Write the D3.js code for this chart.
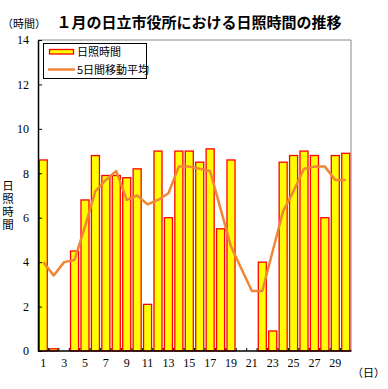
<!DOCTYPE html>
<html>
<head>
<meta charset="utf-8">
<script src="https://cdn.jsdelivr.net/npm/d3@7"></script>
<style>
  body { margin: 0; background: #fff; }
  svg { display: block; }
</style>
</head>
<body>
<div id="chart"></div>
<script>
// 1月の日立市役所における日照時間の推移

// days of the month (1..30)
var days = d3.range(1, 31);
// daily sunshine hours
var sunshine = [8.6, 0.1, 0, 4.5, 6.8, 8.8, 7.9, 7.9, 7.8, 8.2,
                2.1, 9.0, 6.0, 9.0, 9.0, 8.5, 9.1, 5.5, 8.6, 0,
                0, 4.0, 0.9, 8.5, 8.8, 9.0, 8.8, 6.0, 8.8, 8.9];
// 5 day moving average
var movingAvg = [4.0, 3.4, 4.0, 4.1, 5.6, 7.2, 7.7, 8.1, 6.8, 7.0,
                 6.6, 6.8, 7.1, 8.3, 8.3, 8.2, 8.1, 6.4, 4.7, 3.7,
                 2.7, 2.7, 4.5, 6.3, 7.2, 8.2, 8.3, 8.3, 7.7, 7.7];
var yTicks = [0, 2, 4, 6, 8, 10, 12, 14];
var xLabels = [1, 3, 5, 7, 9, 11, 13, 15, 17, 19, 21, 23, 25, 27, 29];

var Width = 388;
var Height = 389;
var Left = 38, Right = 351, Top = 40, Bottom = 351;

var svg = d3.select("#chart").append("svg")
    .attr("width", Width)
    .attr("height", Height);

var xScale = d3.scaleBand()
    .domain(days)
    .range([Left, Right])
    .paddingInner(0.23)
    .paddingOuter(0.12);

var yScale = d3.scaleLinear()
    .domain([0, 14])
    .range([Bottom, Top]);

// plot frame (top and right in gray)
svg.append("path")
    .attr("d", "M" + Left + "," + Top + "H" + Right + "V" + Bottom)
    .attr("fill", "none")
    .attr("stroke", "#888")
    .attr("stroke-width", 1);

// bars
svg.selectAll("rect.bar")
    .data(days.filter(function(d, i) { return sunshine[i] > 0; }))
    .enter()
    .append("rect")
    .attr("class", "bar")
    .attr("x", function(d) { return xScale(d); })
    .attr("y", function(d) { return yScale(sunshine[d - 1]); })
    .attr("width", xScale.bandwidth())
    .attr("height", function(d) { return Bottom - yScale(sunshine[d - 1]); })
    .attr("fill", "#ffff00")
    .attr("stroke", "#ff0000")
    .attr("stroke-width", 1.3);

// moving average line
var line = d3.line()
    .x(function(d) { return xScale(d) + xScale.bandwidth() / 2; })
    .y(function(d) { return yScale(movingAvg[d - 1]); });

svg.append("path")
    .datum(days)
    .attr("d", line)
    .attr("fill", "none")
    .attr("stroke", "#f08636")
    .attr("stroke-width", 2.5)
    .attr("stroke-linejoin", "round");

// y axis
var yAxis = d3.axisLeft(yScale)
    .tickValues(yTicks)
    .tickSizeInner(-4)
    .tickSizeOuter(0)
    .tickPadding(9);

var yg = svg.append("g")
    .attr("transform", "translate(" + Left + ",0)")
    .call(yAxis);
yg.select(".domain").attr("stroke-width", 1.5);
yg.selectAll("text")
    .attr("font-family", "Liberation Serif")
    .attr("font-size", "12px")
    .attr("fill", "#000");

// x axis: ticks on band boundaries, labels on odd days
var boundaries = d3.range(1, 30).map(function(i) { return Left + (Right - Left) * i / 30; });
svg.append("g").selectAll("line")
    .data(boundaries)
    .enter()
    .append("line")
    .attr("x1", function(d) { return d; })
    .attr("x2", function(d) { return d; })
    .attr("y1", Bottom)
    .attr("y2", Bottom - 3)
    .attr("stroke", "#000");

svg.append("line")
    .attr("x1", Left).attr("x2", Right + 0.5)
    .attr("y1", Bottom).attr("y2", Bottom)
    .attr("stroke", "#000")
    .attr("stroke-width", 1.5);

svg.append("g").selectAll("text")
    .data(xLabels)
    .enter()
    .append("text")
    .attr("x", function(d) { return xScale(d) + xScale.bandwidth() / 2; })
    .attr("y", 367)
    .attr("text-anchor", "middle")
    .attr("font-family", "Liberation Serif")
    .attr("font-size", "12px")
    .text(function(d) { return d; });

// unit labels
svg.append("text")
    .attr("x", 352).attr("y", 377)
    .attr("font-family", "Noto Sans CJK JP")
    .attr("font-size", "11px")
    .text("（日）");

svg.append("text")
    .attr("x", 2).attr("y", 28)
    .attr("font-family", "Noto Sans CJK JP")
    .attr("font-size", "11px")
    .text("（時間）");

// title
svg.append("text")
    .attr("x", 199).attr("y", 28)
    .attr("text-anchor", "middle")
    .attr("font-family", "Noto Sans CJK JP")
    .attr("font-weight", "bold")
    .attr("font-size", "15px")
    .text("１月の日立市役所における日照時間の推移");

// y axis title, written vertically
svg.append("text")
    .attr("x", 8)
    .attr("y", 180)
    .attr("writing-mode", "tb")
    .style("writing-mode", "vertical-rl")
    .style("text-orientation", "upright")
    .style("letter-spacing", "1.5px")
    .attr("font-family", "Noto Sans CJK JP")
    .attr("font-size", "11.5px")
    .text("日照時間");

// legend
var legend = svg.append("g");
legend.append("rect")
    .attr("x", 43.5).attr("y", 43.5)
    .attr("width", 103).attr("height", 35)
    .attr("fill", "#fff")
    .attr("stroke", "#000");
legend.append("rect")
    .attr("x", 49.5).attr("y", 49.5)
    .attr("width", 24).attr("height", 4.5)
    .attr("fill", "#ffff00")
    .attr("stroke", "#ff0000")
    .attr("stroke-width", 1.3);
legend.append("text")
    .attr("x", 77).attr("y", 56)
    .attr("font-family", "Noto Sans CJK JP")
    .attr("font-size", "11px")
    .text("日照時間");
legend.append("line")
    .attr("x1", 48).attr("x2", 75)
    .attr("y1", 69.5).attr("y2", 69.5)
    .attr("stroke", "#f08636")
    .attr("stroke-width", 2.5);
legend.append("text")
    .attr("x", 77).attr("y", 73.5)
    .attr("font-family", "Noto Sans CJK JP")
    .attr("font-size", "11px")
    .text("5日間移動平均");
</script>
</body>
</html>
